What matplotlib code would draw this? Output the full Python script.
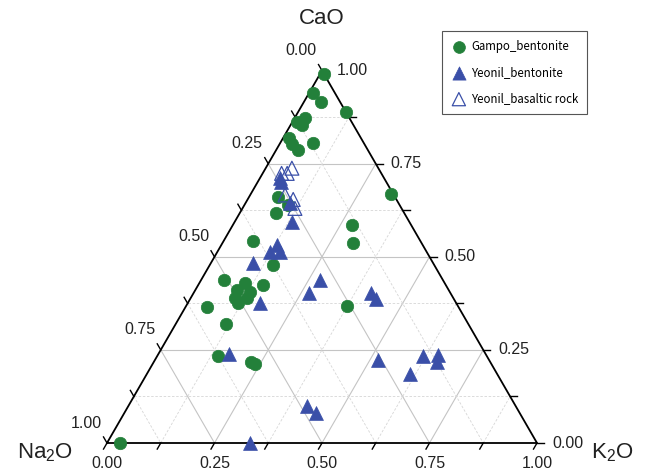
import numpy as np
import matplotlib
matplotlib.use("Agg")
import matplotlib.pyplot as plt

plt.rcParams["mathtext.fontset"] = "custom"
plt.rcParams["mathtext.rm"] = "Liberation Sans"
plt.rcParams["mathtext.it"] = "Liberation Sans"
plt.rcParams["mathtext.default"] = "rm"

# ---- data (fractions: CaO, Na2O, K2O) ----
gampo_cao = [0.99, 0.94, 0.915, 0.89, 0.863, 0.872, 0.854, 0.820, 0.787, 0.805, 0.803,
             0.669, 0.661, 0.617, 0.639, 0.585, 0.538, 0.543, 0.478, 0.438, 0.430, 0.424,
             0.411, 0.406, 0.389, 0.389, 0.375, 0.368, 0.364, 0.320, 0.234, 0.218, 0.212, 0.0]
gampo_na2o = [0.00, 0.05, 0.045, 0.0, 0.127, 0.103, 0.120, 0.166, 0.162, 0.118, 0.169,
              0.005, 0.271, 0.298, 0.260, 0.138, 0.160, 0.388, 0.374, 0.509, 0.464, 0.425,
              0.493, 0.464, 0.508, 0.481, 0.507, 0.259, 0.585, 0.564, 0.624, 0.555, 0.550, 0.97]
gampo_k2o = [0.01, 0.01, 0.04, 0.11, 0.010, 0.025, 0.026, 0.014, 0.051, 0.077, 0.028,
             0.328, 0.068, 0.085, 0.101, 0.277, 0.302, 0.069, 0.148, 0.053, 0.106, 0.151,
             0.096, 0.130, 0.103, 0.131, 0.118, 0.373, 0.051, 0.117, 0.142, 0.227, 0.238, 0.03]

yeonil_cao = [0.711, 0.702, 0.644, 0.594, 0.532, 0.514, 0.514, 0.483, 0.375, 0.438, 0.402,
              0.404, 0.386, 0.238, 0.222, 0.234, 0.236, 0.218, 0.186, 0.099, 0.081, 0.0]
yeonil_na2o = [0.242, 0.244, 0.252, 0.274, 0.339, 0.364, 0.341, 0.419, 0.457, 0.286, 0.329,
               0.185, 0.181, 0.597, 0.258, 0.147, 0.112, 0.124, 0.202, 0.486, 0.474, 0.668]
yeonil_k2o = [0.047, 0.054, 0.104, 0.133, 0.129, 0.122, 0.146, 0.099, 0.168, 0.277, 0.270,
              0.412, 0.433, 0.165, 0.520, 0.619, 0.652, 0.658, 0.612, 0.415, 0.445, 0.332]

basalt_cao = [0.738, 0.724, 0.724, 0.666, 0.654, 0.630]
basalt_na2o = [0.201, 0.219, 0.232, 0.253, 0.240, 0.248]
basalt_k2o = [0.061, 0.057, 0.044, 0.081, 0.106, 0.122]

tick_values = [0.0, 0.25, 0.5, 0.75, 1.0]
tick_labels = ["0.00", "0.25", "0.50", "0.75", "1.00"]
minor_values = [0.125, 0.375, 0.625, 0.875]
legend_labels = ["Gampo_bentonite", "Yeonil_bentonite", "Yeonil_basaltic rock"]

GREEN = "#23803a"
BLUE = "#3a4fa8"
H = np.sqrt(3) / 2


def to_xy(c, na, k):
    c = np.asarray(c, float); na = np.asarray(na, float); k = np.asarray(k, float)
    s = c + na + k
    c, k = c / s, k / s
    return k + c / 2, c * H


fig = plt.figure(figsize=(6.47, 4.72), dpi=100)
ax = fig.add_axes([0, 0, 1, 1])
ax.set_xlim(-107 / 430, 540 / 430)
ax.set_ylim(-29 / 430, 443 / 430)
ax.set_aspect("equal")
ax.axis("off")

# grid lines
for v in tick_values[1:-1] + minor_values:
    major = v in tick_values
    kw = dict(color="#c4c4c4" if major else "#d6d6d6", lw=0.8 if major else 0.6,
              ls="-" if major else (0, (3, 2)), zorder=1)
    # constant CaO (horizontal)
    x1, y1 = to_xy([v], [1 - v], [0]); x2, y2 = to_xy([v], [0], [1 - v])
    ax.plot([x1[0], x2[0]], [y1[0], y2[0]], **kw)
    # constant K2O
    x1, y1 = to_xy([0], [1 - v], [v]); x2, y2 = to_xy([1 - v], [0], [v])
    ax.plot([x1[0], x2[0]], [y1[0], y2[0]], **kw)
    # constant Na2O
    x1, y1 = to_xy([1 - v], [v], [0]); x2, y2 = to_xy([0], [v], [1 - v])
    ax.plot([x1[0], x2[0]], [y1[0], y2[0]], **kw)

# triangle edges
ax.plot([0, 1, 0.5, 0], [0, 0, H, 0], color="black", lw=1.3, zorder=2)

# ticks and labels
L = 7 / 430
tfont = dict(family="Liberation Sans", fontsize=11.5, color="#222222")
for v in tick_values + minor_values:
    # bottom axis (K2O)
    ax.plot([v, v - 0.5 * L], [0, -H * L], color="black", lw=1, zorder=2, clip_on=False)
    # left axis (Na2O)
    lx, ly = (1 - v) / 2, (1 - v) * H
    ax.plot([lx, lx - 0.5 * L], [ly, ly + H * L], color="black", lw=1, zorder=2, clip_on=False)
    # right axis (CaO)
    rx, ry = 1 - v / 2, v * H
    ax.plot([rx, rx + L], [ry, ry], color="black", lw=1, zorder=2, clip_on=False)

for v, lab in zip(tick_values, tick_labels):
    ax.text(v, -20 / 430, lab, ha="center", va="center", **tfont)
    lx, ly = (1 - v) / 2, (1 - v) * H
    ax.text(lx - 21 / 430, ly + 20 / 430, lab, ha="center", va="center", **tfont)
    rx, ry = 1 - v / 2, v * H
    ax.text(rx + 15 / 430, ry, lab, ha="left", va="center", **tfont)

lfont = dict(family="Liberation Sans", fontsize=16, color="#222222")
ax.text(0.5, 425 / 430, "CaO", ha="center", va="center", **lfont)
ax.text(-62 / 430, -10 / 430, "Na$_2$O", ha="center", va="center", **lfont)
ax.text(505 / 430, -10 / 430, "K$_2$O", ha="center", va="center", **lfont)

# data
gx, gy = to_xy(gampo_cao, gampo_na2o, gampo_k2o)
yx, yy = to_xy(yeonil_cao, yeonil_na2o, yeonil_k2o)
bx, by = to_xy(basalt_cao, basalt_na2o, basalt_k2o)
ax.scatter(gx, gy, s=80, marker="o", color=GREEN, edgecolors=GREEN, lw=0.5,
           zorder=3, clip_on=False, label=legend_labels[0])
ax.scatter(yx, yy, s=100, marker="^", color=BLUE, edgecolors=BLUE, lw=0.5,
           zorder=4, clip_on=False, label=legend_labels[1])
ax.scatter(bx, by, s=100, marker="^", facecolors="none", edgecolors=BLUE, lw=0.9,
           zorder=5, clip_on=False, label=legend_labels[2])

leg = ax.legend(loc="upper right", bbox_to_anchor=(587 / 647, 1 - 31 / 472),
                bbox_transform=fig.transFigure, borderaxespad=0, frameon=True,
                fancybox=False, edgecolor="#555555", framealpha=1, borderpad=0.75,
                labelspacing=1.15, handletextpad=0.3, handlelength=1.5, markerscale=0.95,
                prop=dict(family="Noto Sans CJK KR", size=8.3))
leg.get_frame().set_linewidth(0.8)

fig.savefig("out.png", dpi=100)
